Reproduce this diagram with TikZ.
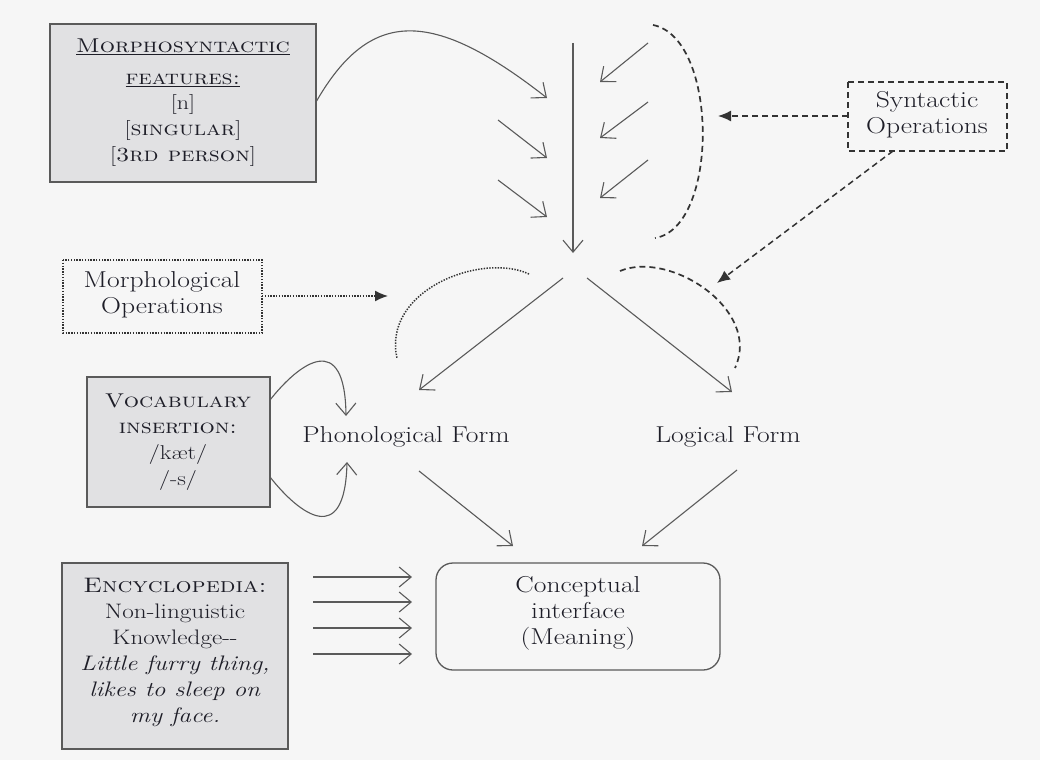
\documentclass[tikz,border=0pt]{standalone}
\usepackage{fontspec}
\usepackage{graphicx}
\usetikzlibrary{arrows.meta}
\definecolor{bgc}{HTML}{F6F6F6}
\definecolor{boxfill}{HTML}{E1E1E3}
\definecolor{linec}{HTML}{5A5A5A}
\definecolor{txtc}{HTML}{1E1E28}
\newcommand{\wt}[2]{\scalebox{1.2}[1]{\fontsize{#1}{26}\selectfont\begin{tabular}{@{}c@{}}#2\end{tabular}}}
\begin{document}
\begin{tikzpicture}[x=1pt,y=-1pt,
  every node/.style={text=txtc,inner sep=0pt},
  graybox/.style={draw=linec,line width=1.3pt,fill=boxfill},
  conn/.style={draw=linec,line width=1.1pt,-{Straight Barb[length=12pt,width=20pt]}},
  dashconn/.style={draw=black!80,line width=1.5pt,dash pattern=on 6pt off 4pt,-{Latex[length=13pt,width=11pt]}},
  dotconn/.style={draw=black!80,line width=1.5pt,dash pattern=on 1.4pt off 1.4pt,-{Latex[length=13pt,width=11pt]}},
  dasharc/.style={draw=black!80,line width=1.7pt,dash pattern=on 6pt off 4pt},
  dotarc/.style={draw=black!80,line width=1.5pt,dash pattern=on 1.4pt off 1.4pt}]
\fill[bgc] (0,0) rectangle (1040,760);
\useasboundingbox (0,0) rectangle (1040,760);

% boxes
\draw[graybox] (50,24) rectangle (316,182);
\node (ms) at (183,102) {\wt{20}{\underline{\textsc{Morphosyntactic}}\\[6pt] \underline{\textsc{features:}}\\[-1pt] {[n]}\\ {[\textsc{singular}]}\\ {[\textsc{3rd person}]}}};
\coordinate (msE) at (316,102);

\draw[draw=black!80,line width=1.5pt,dash pattern=on 6pt off 4pt] (848,82) rectangle (1007,151);
\node (so) at (927,115) {\wt{23}{Syntactic\\ Operations}};
\coordinate (soW) at (848,116);
\coordinate (soS) at (893,151);

\draw[draw=black!80,line width=1.5pt,dash pattern=on 1.4pt off 1.4pt] (63,260) rectangle (262,333);
\node (mo) at (162,295) {\wt{23}{Morphological\\ Operations}};
\coordinate (moE) at (262,296);

\draw[graybox] (87,377) rectangle (270,507);
\node (vi) at (178,441) {\wt{20}{\textsc{Vocabulary}\\ \textsc{insertion:}\\ /kæt/\\ /-s/}};
\coordinate (viNE) at (270,400);
\coordinate (viSE) at (270,477);

\draw[graybox] (62,563) rectangle (288,749);
\node (en) at (175,652) {\wt{21}{\textsc{Encyclopedia:}\\ Non-linguistic\\ Knowledge-{}-\\ \textit{Little furry thing,}\\ \textit{likes to sleep on}\\ \textit{my face.}}};

\draw[draw=linec,line width=1.3pt,rounded corners=17pt] (436,563) rectangle (720,670);
\node (ci) at (578,613) {\wt{23}{Conceptual\\ interface\\ (Meaning)}};

\node (pf) at (406,437) {\wt{23}{Phonological Form}};
\node (lf) at (728,437) {\wt{23}{Logical Form}};

% main vertical arrow
\coordinate (vtop) at (573,43);
\coordinate (vbot) at (573,253);
\draw[conn] (vtop) -- (vbot);

% morph curve
\coordinate (m1) at (547,98);
\draw[conn] (msE) .. controls (370,8) and (432,8) .. (m1);
\coordinate (l2a) at (498,120); \coordinate (l2b) at (547,158);
\coordinate (l3a) at (498,180); \coordinate (l3b) at (547,217);
\draw[conn] (l2a) -- (l2b);
\draw[conn] (l3a) -- (l3b);
% right arrows
\coordinate (r1a) at (648,43);  \coordinate (r1b) at (600,82);
\coordinate (r2a) at (648,102); \coordinate (r2b) at (600,138);
\coordinate (r3a) at (648,160); \coordinate (r3b) at (600,198);
\draw[conn] (r1a) -- (r1b);
\draw[conn] (r2a) -- (r2b);
\draw[conn] (r3a) -- (r3b);
% dashed bracket
\coordinate (b1) at (653,25); \coordinate (b2) at (655,238);
\draw[dasharc] (b1) .. controls (719,38) and (719,228) .. (b2);
\coordinate (bmid) at (718,116);
\draw[dashconn] (soW) -- (bmid);

% split arrows
\coordinate (sL) at (563,278); \coordinate (pfT) at (419,390);
\coordinate (sR) at (587,278); \coordinate (lfT) at (732,392);
\draw[conn] (sL) -- (pfT);
\draw[conn] (sR) -- (lfT);
% dotted arc
\coordinate (d1) at (529,274); \coordinate (d2) at (397,358);
\draw[dotarc] (d1) .. controls (482,252) and (382,290) .. (d2);
\coordinate (moT) at (388,296);
\draw[dotconn] (moE) -- (moT);
% dashed arc right
\coordinate (e1) at (620,271); \coordinate (e2) at (735,368);
\draw[dasharc] (e1) .. controls (670,250) and (762,310) .. (e2);
\coordinate (arcT) at (717,283);
\draw[dashconn] (soS) -- (arcT);

% vocabulary loops
\coordinate (vu) at (346,416); \coordinate (vd) at (347,462);
\draw[conn] (viNE) .. controls (300,362) and (345,330) .. (vu);
\draw[conn] (viSE) .. controls (300,515) and (345,548) .. (vd);

% to conceptual
\coordinate (pfB) at (419,471); \coordinate (ciL) at (513,546);
\coordinate (lfB) at (737,470); \coordinate (ciR) at (642,546);
\draw[conn] (pfB) -- (ciL);
\draw[conn] (lfB) -- (ciR);

% encyclopedia arrows
\foreach \yy [count=\i] in {577,602,628,654}{
  \coordinate (ea\i) at (313,\yy); \coordinate (eb\i) at (412,\yy);
  \draw[conn] (ea\i) -- (eb\i);
}
\end{tikzpicture}
\end{document}
